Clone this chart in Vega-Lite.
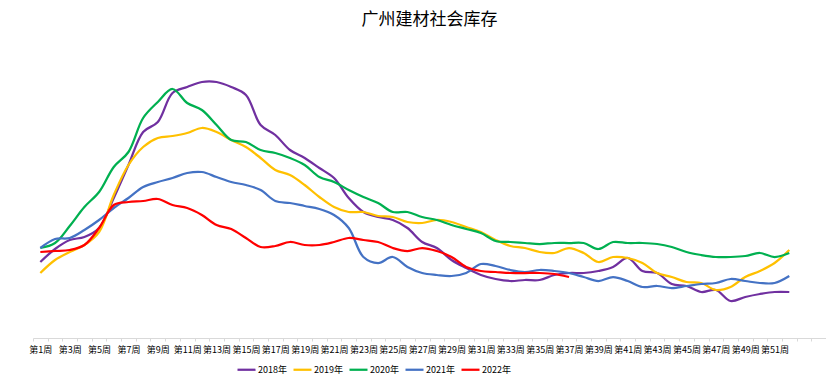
{
  "$schema": "https://vega.github.io/schema/vega-lite/v6.json",
  "width": 793,
  "height": 298,
  "autosize": {"type": "none"},
  "padding": {"left": 33, "top": 40, "right": 0, "bottom": 44},
  "background": "#ffffff",
  "config": {
    "view": {"stroke": null},
    "font": "Noto Sans CJK SC"
  },
  "title": {
    "text": "广州建材社会库存",
    "fontSize": 17,
    "fontWeight": "normal",
    "font": "Noto Sans CJK SC",
    "color": "#000000",
    "offset": 11,
    "anchor": "middle"
  },
  "data": {
    "values": [
      {"week": 1, "year": "2018年", "v": 76}, {"week": 2, "year": "2018年", "v": 89}, {"week": 3, "year": "2018年", "v": 98}, {"week": 4, "year": "2018年", "v": 101}, {"week": 5, "year": "2018年", "v": 110}, {"week": 6, "year": "2018年", "v": 140}, {"week": 7, "year": "2018年", "v": 173}, {"week": 8, "year": "2018年", "v": 206}, {"week": 9, "year": "2018年", "v": 216}, {"week": 10, "year": "2018年", "v": 245}, {"week": 11, "year": "2018年", "v": 251}, {"week": 12, "year": "2018年", "v": 256}, {"week": 13, "year": "2018年", "v": 256}, {"week": 14, "year": "2018年", "v": 251}, {"week": 15, "year": "2018年", "v": 243}, {"week": 16, "year": "2018年", "v": 213}, {"week": 17, "year": "2018年", "v": 203}, {"week": 18, "year": "2018年", "v": 188}, {"week": 19, "year": "2018年", "v": 180}, {"week": 20, "year": "2018年", "v": 170}, {"week": 21, "year": "2018年", "v": 160}, {"week": 22, "year": "2018年", "v": 140}, {"week": 23, "year": "2018年", "v": 126}, {"week": 24, "year": "2018年", "v": 121}, {"week": 25, "year": "2018年", "v": 118}, {"week": 26, "year": "2018年", "v": 110}, {"week": 27, "year": "2018年", "v": 96}, {"week": 28, "year": "2018年", "v": 90}, {"week": 29, "year": "2018年", "v": 78}, {"week": 30, "year": "2018年", "v": 70}, {"week": 31, "year": "2018年", "v": 63}, {"week": 32, "year": "2018年", "v": 59}, {"week": 33, "year": "2018年", "v": 57}, {"week": 34, "year": "2018年", "v": 58}, {"week": 35, "year": "2018年", "v": 58}, {"week": 36, "year": "2018年", "v": 63}, {"week": 37, "year": "2018年", "v": 65}, {"week": 38, "year": "2018年", "v": 65}, {"week": 39, "year": "2018年", "v": 67}, {"week": 40, "year": "2018年", "v": 71}, {"week": 41, "year": "2018年", "v": 80}, {"week": 42, "year": "2018年", "v": 67}, {"week": 43, "year": "2018年", "v": 65}, {"week": 44, "year": "2018年", "v": 54}, {"week": 45, "year": "2018年", "v": 52}, {"week": 46, "year": "2018年", "v": 46}, {"week": 47, "year": "2018年", "v": 48}, {"week": 48, "year": "2018年", "v": 37}, {"week": 49, "year": "2018年", "v": 41}, {"week": 50, "year": "2018年", "v": 44}, {"week": 51, "year": "2018年", "v": 46}, {"week": 52, "year": "2018年", "v": 46},
      {"week": 1, "year": "2019年", "v": 65}, {"week": 2, "year": "2019年", "v": 78}, {"week": 3, "year": "2019年", "v": 86}, {"week": 4, "year": "2019年", "v": 93}, {"week": 5, "year": "2019年", "v": 106}, {"week": 6, "year": "2019年", "v": 143}, {"week": 7, "year": "2019年", "v": 173}, {"week": 8, "year": "2019年", "v": 191}, {"week": 9, "year": "2019年", "v": 200}, {"week": 10, "year": "2019年", "v": 202}, {"week": 11, "year": "2019年", "v": 205}, {"week": 12, "year": "2019年", "v": 210}, {"week": 13, "year": "2019年", "v": 206}, {"week": 14, "year": "2019年", "v": 198}, {"week": 15, "year": "2019年", "v": 191}, {"week": 16, "year": "2019年", "v": 180}, {"week": 17, "year": "2019年", "v": 168}, {"week": 18, "year": "2019年", "v": 163}, {"week": 19, "year": "2019年", "v": 153}, {"week": 20, "year": "2019年", "v": 141}, {"week": 21, "year": "2019年", "v": 131}, {"week": 22, "year": "2019年", "v": 126}, {"week": 23, "year": "2019年", "v": 126}, {"week": 24, "year": "2019年", "v": 122}, {"week": 25, "year": "2019年", "v": 121}, {"week": 26, "year": "2019年", "v": 116}, {"week": 27, "year": "2019年", "v": 115}, {"week": 28, "year": "2019年", "v": 118}, {"week": 29, "year": "2019年", "v": 116}, {"week": 30, "year": "2019年", "v": 111}, {"week": 31, "year": "2019年", "v": 106}, {"week": 32, "year": "2019年", "v": 98}, {"week": 33, "year": "2019年", "v": 92}, {"week": 34, "year": "2019年", "v": 90}, {"week": 35, "year": "2019年", "v": 86}, {"week": 36, "year": "2019年", "v": 85}, {"week": 37, "year": "2019年", "v": 90}, {"week": 38, "year": "2019年", "v": 85}, {"week": 39, "year": "2019年", "v": 76}, {"week": 40, "year": "2019年", "v": 81}, {"week": 41, "year": "2019年", "v": 80}, {"week": 42, "year": "2019年", "v": 75}, {"week": 43, "year": "2019年", "v": 65}, {"week": 44, "year": "2019年", "v": 61}, {"week": 45, "year": "2019年", "v": 56}, {"week": 46, "year": "2019年", "v": 55}, {"week": 47, "year": "2019年", "v": 48}, {"week": 48, "year": "2019年", "v": 51}, {"week": 49, "year": "2019年", "v": 61}, {"week": 50, "year": "2019年", "v": 67}, {"week": 51, "year": "2019年", "v": 75}, {"week": 52, "year": "2019年", "v": 88},
      {"week": 1, "year": "2020年", "v": 90}, {"week": 2, "year": "2020年", "v": 95}, {"week": 3, "year": "2020年", "v": 112}, {"week": 4, "year": "2020年", "v": 131}, {"week": 5, "year": "2020年", "v": 146}, {"week": 6, "year": "2020年", "v": 171}, {"week": 7, "year": "2020年", "v": 186}, {"week": 8, "year": "2020年", "v": 220}, {"week": 9, "year": "2020年", "v": 236}, {"week": 10, "year": "2020年", "v": 249}, {"week": 11, "year": "2020年", "v": 235}, {"week": 12, "year": "2020年", "v": 228}, {"week": 13, "year": "2020年", "v": 213}, {"week": 14, "year": "2020年", "v": 198}, {"week": 15, "year": "2020年", "v": 196}, {"week": 16, "year": "2020年", "v": 188}, {"week": 17, "year": "2020年", "v": 185}, {"week": 18, "year": "2020年", "v": 180}, {"week": 19, "year": "2020年", "v": 173}, {"week": 20, "year": "2020年", "v": 161}, {"week": 21, "year": "2020年", "v": 156}, {"week": 22, "year": "2020年", "v": 148}, {"week": 23, "year": "2020年", "v": 141}, {"week": 24, "year": "2020年", "v": 135}, {"week": 25, "year": "2020年", "v": 126}, {"week": 26, "year": "2020年", "v": 126}, {"week": 27, "year": "2020年", "v": 121}, {"week": 28, "year": "2020年", "v": 118}, {"week": 29, "year": "2020年", "v": 113}, {"week": 30, "year": "2020年", "v": 109}, {"week": 31, "year": "2020年", "v": 105}, {"week": 32, "year": "2020年", "v": 97}, {"week": 33, "year": "2020年", "v": 96}, {"week": 34, "year": "2020年", "v": 95}, {"week": 35, "year": "2020年", "v": 94}, {"week": 36, "year": "2020年", "v": 95}, {"week": 37, "year": "2020年", "v": 95}, {"week": 38, "year": "2020年", "v": 95}, {"week": 39, "year": "2020年", "v": 89}, {"week": 40, "year": "2020年", "v": 96}, {"week": 41, "year": "2020年", "v": 95}, {"week": 42, "year": "2020年", "v": 95}, {"week": 43, "year": "2020年", "v": 94}, {"week": 44, "year": "2020年", "v": 91}, {"week": 45, "year": "2020年", "v": 86}, {"week": 46, "year": "2020年", "v": 83}, {"week": 47, "year": "2020年", "v": 81}, {"week": 48, "year": "2020年", "v": 81}, {"week": 49, "year": "2020年", "v": 82}, {"week": 50, "year": "2020年", "v": 85}, {"week": 51, "year": "2020年", "v": 81}, {"week": 52, "year": "2020年", "v": 85},
      {"week": 1, "year": "2021年", "v": 90}, {"week": 2, "year": "2021年", "v": 99}, {"week": 3, "year": "2021年", "v": 100}, {"week": 4, "year": "2021年", "v": 108}, {"week": 5, "year": "2021年", "v": 118}, {"week": 6, "year": "2021年", "v": 130}, {"week": 7, "year": "2021年", "v": 140}, {"week": 8, "year": "2021年", "v": 151}, {"week": 9, "year": "2021年", "v": 156}, {"week": 10, "year": "2021年", "v": 160}, {"week": 11, "year": "2021年", "v": 165}, {"week": 12, "year": "2021年", "v": 166}, {"week": 13, "year": "2021年", "v": 161}, {"week": 14, "year": "2021年", "v": 156}, {"week": 15, "year": "2021年", "v": 153}, {"week": 16, "year": "2021年", "v": 148}, {"week": 17, "year": "2021年", "v": 137}, {"week": 18, "year": "2021年", "v": 135}, {"week": 19, "year": "2021年", "v": 132}, {"week": 20, "year": "2021年", "v": 129}, {"week": 21, "year": "2021年", "v": 123}, {"week": 22, "year": "2021年", "v": 110}, {"week": 23, "year": "2021年", "v": 81}, {"week": 24, "year": "2021年", "v": 75}, {"week": 25, "year": "2021年", "v": 81}, {"week": 26, "year": "2021年", "v": 71}, {"week": 27, "year": "2021年", "v": 65}, {"week": 28, "year": "2021年", "v": 63}, {"week": 29, "year": "2021年", "v": 62}, {"week": 30, "year": "2021年", "v": 65}, {"week": 31, "year": "2021年", "v": 74}, {"week": 32, "year": "2021年", "v": 72}, {"week": 33, "year": "2021年", "v": 68}, {"week": 34, "year": "2021年", "v": 66}, {"week": 35, "year": "2021年", "v": 68}, {"week": 36, "year": "2021年", "v": 67}, {"week": 37, "year": "2021年", "v": 65}, {"week": 38, "year": "2021年", "v": 61}, {"week": 39, "year": "2021年", "v": 57}, {"week": 40, "year": "2021年", "v": 61}, {"week": 41, "year": "2021年", "v": 57}, {"week": 42, "year": "2021年", "v": 51}, {"week": 43, "year": "2021年", "v": 52}, {"week": 44, "year": "2021年", "v": 50}, {"week": 45, "year": "2021年", "v": 52}, {"week": 46, "year": "2021年", "v": 54}, {"week": 47, "year": "2021年", "v": 55}, {"week": 48, "year": "2021年", "v": 59}, {"week": 49, "year": "2021年", "v": 57}, {"week": 50, "year": "2021年", "v": 55}, {"week": 51, "year": "2021年", "v": 55}, {"week": 52, "year": "2021年", "v": 62},
      {"week": 1, "year": "2022年", "v": 86}, {"week": 2, "year": "2022年", "v": 87}, {"week": 3, "year": "2022年", "v": 88}, {"week": 4, "year": "2022年", "v": 93}, {"week": 5, "year": "2022年", "v": 110}, {"week": 6, "year": "2022年", "v": 133}, {"week": 7, "year": "2022年", "v": 136}, {"week": 8, "year": "2022年", "v": 137}, {"week": 9, "year": "2022年", "v": 139}, {"week": 10, "year": "2022年", "v": 133}, {"week": 11, "year": "2022年", "v": 130}, {"week": 12, "year": "2022年", "v": 123}, {"week": 13, "year": "2022年", "v": 113}, {"week": 14, "year": "2022年", "v": 109}, {"week": 15, "year": "2022年", "v": 100}, {"week": 16, "year": "2022年", "v": 91}, {"week": 17, "year": "2022年", "v": 92}, {"week": 18, "year": "2022年", "v": 96}, {"week": 19, "year": "2022年", "v": 93}, {"week": 20, "year": "2022年", "v": 93}, {"week": 21, "year": "2022年", "v": 96}, {"week": 22, "year": "2022年", "v": 100}, {"week": 23, "year": "2022年", "v": 98}, {"week": 24, "year": "2022年", "v": 96}, {"week": 25, "year": "2022年", "v": 90}, {"week": 26, "year": "2022年", "v": 87}, {"week": 27, "year": "2022年", "v": 90}, {"week": 28, "year": "2022年", "v": 87}, {"week": 29, "year": "2022年", "v": 81}, {"week": 30, "year": "2022年", "v": 71}, {"week": 31, "year": "2022年", "v": 67}, {"week": 32, "year": "2022年", "v": 66}, {"week": 33, "year": "2022年", "v": 65}, {"week": 34, "year": "2022年", "v": 65}, {"week": 35, "year": "2022年", "v": 65}, {"week": 36, "year": "2022年", "v": 64}, {"week": 37, "year": "2022年", "v": 61}
    ]
  },
  "mark": {"type": "line", "interpolate": "catmull-rom"},
  "encoding": {
    "x": {
      "field": "week",
      "type": "ordinal",
      "bandPosition": 0.5,
      "scale": {"type": "band", "domain": [1,2,3,4,5,6,7,8,9,10,11,12,13,14,15,16,17,18,19,20,21,22,23,24,25,26,27,28,29,30,31,32,33,34,35,36,37,38,39,40,41,42,43,44,45,46,47,48,49,50,51,52,53,54], "paddingInner": 0, "paddingOuter": 0},
      "axis": {
        "title": null,
        "labelExpr": "datum.value % 2 == 1 && datum.value <= 51 ? '第' + datum.value + '周' : ''",
        "labelAngle": 0,
        "labelFontSize": 9,
        "labelFont": "Noto Sans CJK SC",
        "labelColor": "#000000",
        "labelOverlap": false,
        "labelPadding": 4,
        "tickBand": "extent",
        "tickColor": "#d9d9d9",
        "tickSize": 3,
        "domainColor": "#d9d9d9",
        "grid": false
      }
    },
    "y": {
      "field": "v",
      "type": "quantitative",
      "scale": {"domain": [0, 298]},
      "axis": null
    },
    "color": {
      "field": "year",
      "type": "nominal",
      "scale": {"domain": ["2018年", "2019年", "2020年", "2021年", "2022年"], "range": ["#7030A0", "#FFC000", "#00B050", "#4472C4", "#FF0000"]},
      "legend": {
        "title": null,
        "orient": "none",
        "legendX": 203,
        "legendY": 319,
        "direction": "horizontal",
        "symbolType": "stroke",
        "symbolSize": 324,
        "symbolStrokeWidth": 2.5,
        "labelFontSize": 9,
        "labelFont": "Noto Sans CJK SC",
        "labelColor": "#000000",
        "labelOffset": 1,
        "columnPadding": 2
      }
    },
    "strokeWidth": {
      "field": "year",
      "type": "nominal",
      "scale": {"domain": ["2018年", "2019年", "2020年", "2021年", "2022年"], "range": [2.25, 2.25, 2.25, 2.25, 4]},
      "legend": null
    }
  }
}
